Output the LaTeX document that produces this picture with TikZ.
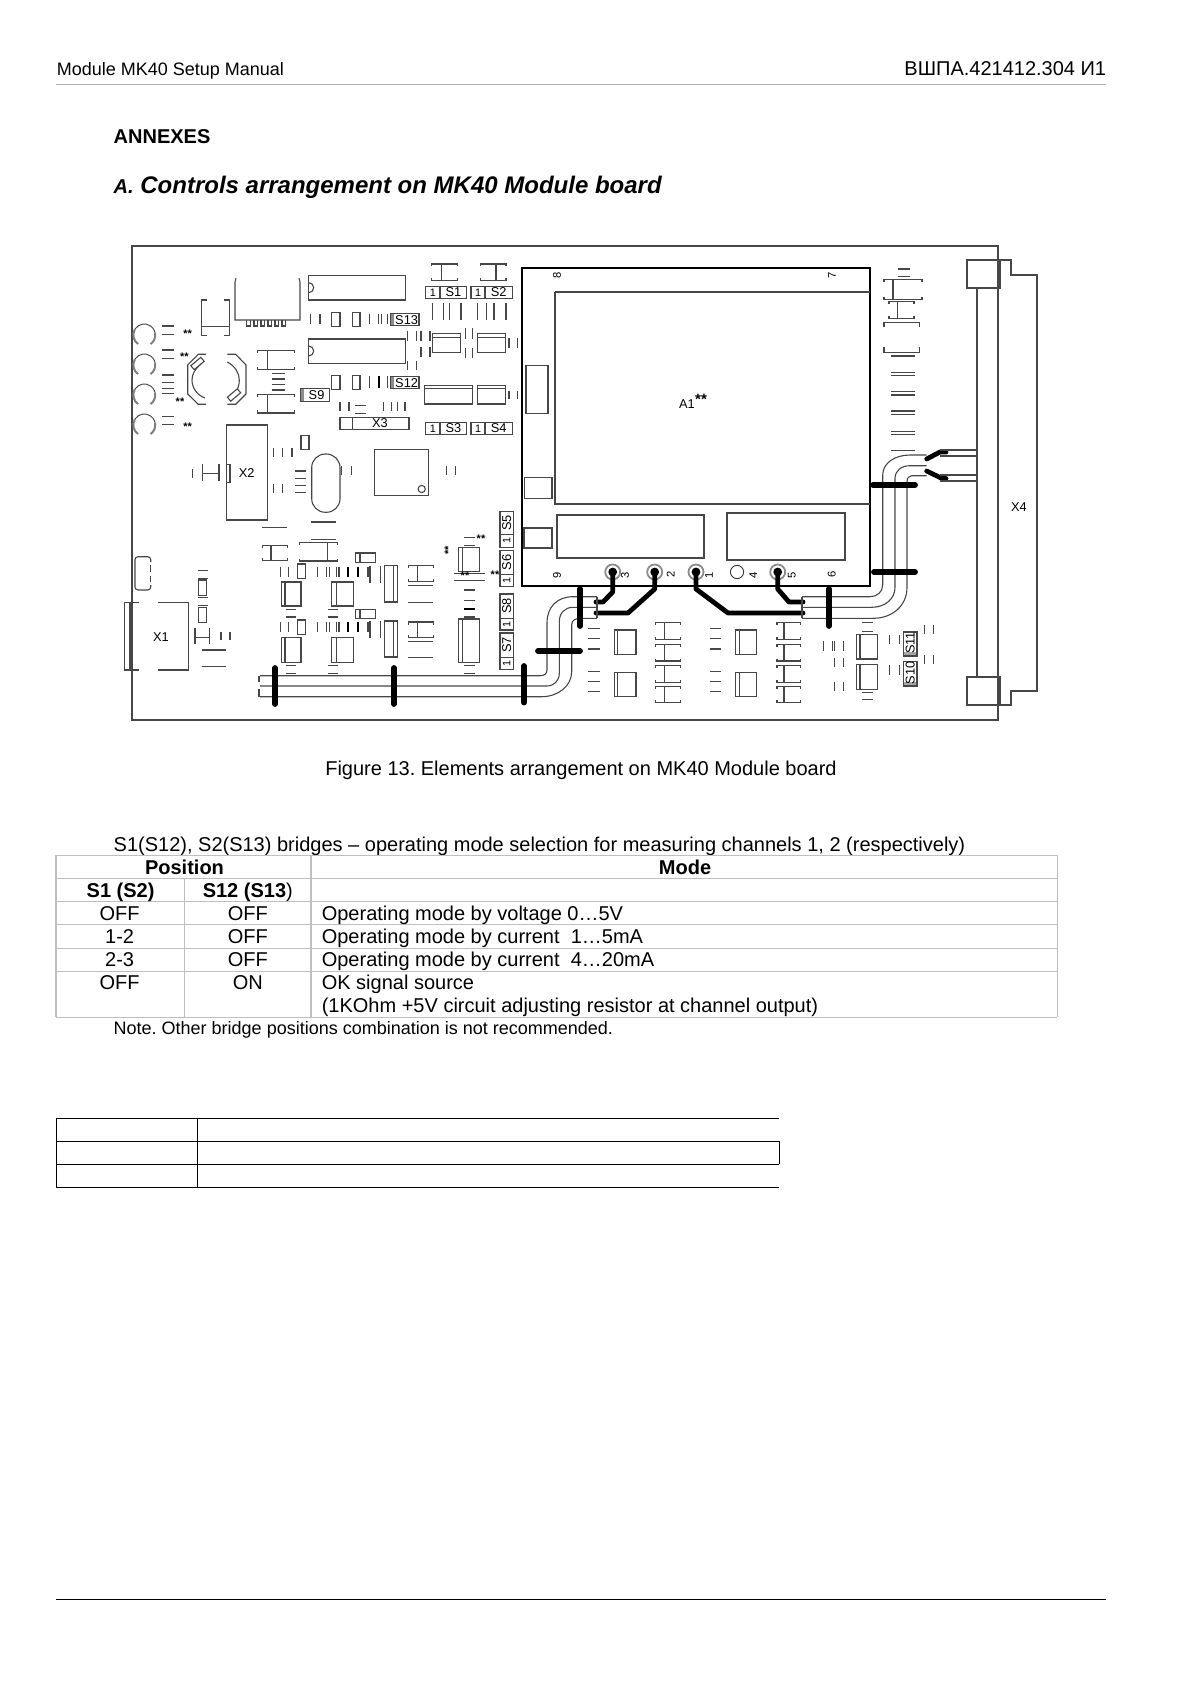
\documentclass[tikz,border=0pt]{standalone}
\usepackage{fontspec}
\setmainfont{Liberation Sans}
\frenchspacing
\tikzset{
    part/.style={draw=black!72,line width=0.55pt},
    wire/.style={draw=black!72,line width=0.55pt},
    heavy/.style={line width=2.4pt,line cap=round,line join=round},
    clamp/.style={line width=2.9pt,line cap=round},
    ruling/.style={draw=black!25,line width=0.6pt},
    txt/.style={inner sep=0pt,anchor=base west},
    ctr/.style={inner sep=0pt,anchor=base},
    small/.style={inner sep=0pt,font=\fontsize{6.4}{7}\selectfont},
    tiny/.style={inner sep=0pt,font=\fontsize{5.4}{6}\selectfont},
    pin/.style={inner sep=0pt,font=\fontsize{5.6}{6}\selectfont,rotate=90},
    star/.style={inner sep=0pt,font=\fontsize{5.5}{6}\bfseries\selectfont},
    body/.style={font=\fontsize{10}{12}\selectfont},
    note/.style={font=\fontsize{9}{11}\selectfont},
    head/.style={font=\fontsize{10}{12}\bfseries\selectfont},
}
\begin{document}
\begin{tikzpicture}[x=0.5pt,y=-0.5pt]
    \useasboundingbox (0,0) rectangle (1190,1684);
    % page head
    \node[txt,note] (headleft) at (56.5,76) {Module MK40 Setup Manual};
    \node[inner sep=0pt,anchor=base east,font=\fontsize{10}{12}\selectfont] (headright) at (1106.5,76) {ВШПА.421412.304 И1};
    \draw[draw=black!30,line width=0.5pt] (56,84.3) -- (1106,84.3);
    \draw[line width=0.5pt] (56,1599) -- (1106,1599);
    \node[txt,font=\fontsize{10}{12}\bfseries\selectfont] (annexes) at (113.3,143.3) {ANNEXES};
    \node[txt,font=\fontsize{12}{14}\bfseries\itshape\selectfont] (title) at (113.3,193.3) {{\fontsize{10}{12}\selectfont A.} Controls arrangement on MK40 Module board};
    % board
    \draw[part] (132,246) rectangle (998,720);
    % connector X4
    \draw[part] (967,260) -- (1011,260) -- (1011,275) -- (1037,275) -- (1037,691) -- (1011,691) -- (1011,705) -- (967,705);
    \draw[part] (967,260) rectangle (1000,288) (967,677) rectangle (1000,705);
    \draw[part] (977,288) -- (977,677);
    \node[small] (lblxfour) at (1019,507) {X4};
    % module A1
    \draw[line width=1.1pt] (522,268) rectangle (870,586);
    \draw[part] (555,292) -- (870,292) (555,292) -- (555,504) -- (870,504);
    \foreach \xa/\xb/\ya/\yb in {557/704/515/558,727/845/513/560,524/552/528/548,524.5/552/477.3/498.3,526/548/365.7/413.3}
        \draw[part] (\xa,\ya) rectangle (\xb,\yb);
    \node[small] (lblaone) at (687,404) {A1};
    \node[star,font=\fontsize{7.5}{8}\bfseries\selectfont] (staraone) at (701,399) {**};
    \foreach \i/\x/\y in {8/557/275,7/832/275,9/557/575,3/625/575,2/670.7/574,1/709/575,4/753.3/575,5/791.7/575,6/831.7/574}
        \node[pin] (lblpin\i) at (\x,\y) {\i};
    \foreach \i/\x in {1/696,2/654.7,3/612.7,5/777.7}{
        \node[circle,draw=black!45,line width=0.9pt,minimum size=7.5pt,inner sep=0pt] (pin\i) at (\x,572) {};
        \fill (pin\i.center) circle (2.2pt);
    }
    \node[circle,draw=black!80,line width=0.45pt,minimum size=6.6pt,inner sep=0pt] (pin4) at (737,572) {};
    % heavy traces
    \draw[heavy] (pin3.center) -- (612.7,592) -- (603,602) -- (596,602);
    \draw[heavy] (pin2.center) -- (654.7,589) -- (628,613) -- (596,613);
    \draw[heavy] (pin1.center) -- (696,589) -- (728,613) -- (803,613);
    \draw[heavy] (pin5.center) -- (777.7,589) -- (789,602) -- (803,602);
    \draw[heavy] (926.7,459) -- (940,452) -- (946,452);
    \draw[heavy] (926.7,471) -- (942,478.5) -- (946,478.5);
    % harness, left run
    \draw[wire] (597,596.7) -- (573,596.7) .. controls (557,596.7) and (547,607) .. (547,623) -- (547,670) .. controls (547,674) and (544,675.7) .. (540,675.7) -- (260,675.7);
    \draw[wire] (597,607.3) -- (573,607.3) .. controls (565,607.3) and (559.3,613) .. (559.3,621.7) -- (559.3,673) .. controls (559.3,681) and (554,686) .. (546.7,686) -- (260,686);
    \draw[wire] (597,618.3) -- (582,618.3) .. controls (575,618.3) and (571.7,620) .. (571.7,625) -- (571.7,671.7) .. controls (571.7,686) and (558,696.7) .. (541.7,696.7) -- (260,696.7);
    \draw[wire] (597,596.7) -- (597,618.3) (259,675.7) -- (259,682) (259,689) -- (259,696.7);
    % harness, right run
    \draw[wire] (802,596.7) -- (870,596.7) .. controls (877,596.7) and (882.7,592) .. (882.7,585) -- (882.7,475) .. controls (882.7,463) and (895,455) .. (910,455) -- (926.7,455);
    \draw[wire] (802,607.3) -- (871.7,607.3) .. controls (885,607.3) and (895,599) .. (895,587.3) -- (895,478.3) .. controls (895,471) and (901,465.7) .. (910,465.7) -- (926.7,465.7);
    \draw[wire] (802,618.3) -- (873.3,618.3) .. controls (892,618.3) and (907,606) .. (907,587.3) -- (907,481.7) .. controls (907,478) and (909,475.7) .. (911.7,475.7) -- (926.7,475.7);
    \draw[wire] (802,596.7) -- (802,618.3);
    \foreach \y in {450,456,475,481}
        \draw[wire] (940,\y) -- (977,\y);
    % clamps
    \foreach \x/\ya/\yb in {275/668/704,394/668/704,524/666/702.5,580/589/626,829/589/626}
        \draw[clamp] (\x,\ya) -- (\x,\yb);
    \foreach \xa/\xb/\y in {538/580/651,874/915/572,873/915/485}
        \draw[clamp] (\xa,\y) -- (\xb,\y);
    % plain boxes
    \foreach \xa/\xb/\ya/\yb in {
        308.7/405.3/275.7/300,308.7/405.3/339/363.3,
        331.7/340/312.7/326.7,352.7/360/312.7/326.7,331.7/340/375.3/389.3,352.7/360/375.3/389.3,
        301/309/435.7/449.3,374.3/428.3/449.3/495.7,226.3/267.3/425/520,226.7/230/464.3/482.3,
        297.3/305.3/564/578.7,297.3/305.3/620/634.3,198.7/206.7/580/595.7,198.7/206.7/607.3/622.3}
        \draw[part,fill=white] (\xa,\ya) rectangle (\xb,\yb);
    % boxes with an inner edge
    \foreach \xa/\xi/\xb/\ya/\yb in {
        281.7/285/301/582/606,331.7/336.7/353.3/582/606,281.7/285/301/637.3/662.3,331.7/336.7/353.3/637.3/662.3,
        384.3/393.7/397.7/565.7/602,384.3/393.7/397.7/621/657,458.7/462.3/479.3/547.3/571.7,458.7/462.3/479.3/619/662.3,
        614.3/617.7/636/630/654.3,614.3/617.7/636/672.7/696.7,735.7/739.3/756.3/630/654.3,735.7/739.3/756.3/672.7/696.7,
        856.7/860/877.3/634.7/659,856.7/860/877.3/664.3/689.3,355.3/360/375.7/553/562.3,355.3/360/375.7/609.3/618.3}
        \draw[part] (\xa,\ya) rectangle (\xb,\yb) (\xi,\ya) -- (\xi,\yb);
    \foreach \xa/\xb/\ya/\yi/\yb in {432.3/460.7/333.3/337.3/352.7,477.7/505.7/333.3/337.3/352.7,424.3/472.3/385.3/388.3/404,477.7/505.7/385.3/388.3/404}
        \draw[part] (\xa,\ya) rectangle (\xb,\yb) (\xa,\yi) -- (\xb,\yi);
    % chip notches, crystal, dot
    \foreach \y in {287.7,351}
        \draw[part] (308.7,\y-5) arc[start angle=-90,end angle=90,radius=5];
    \draw[part,rounded corners=6.8pt] (311.7,490) -- (311.7,454) -- (340,454) -- (340,512.3) -- (311.7,512.3) -- (311.7,490);
    \draw[part] (421.7,489) circle (1.8pt);
    % bridged capacitors
    \foreach \xa/\xb/\xs/\ya/\yb in {
        431.7/457.3/441.7/264/280.7,480.3/506/496/264/280.7,
        257.3/294.3/267.3/350.7/369.3,257.3/294.3/267.3/394.3/413,
        884/922/893/279.3/299.3,889/914/897.7/301.7/318.3,
        655.7/680.3/664.3/622.7/639.3,655.7/680.3/664.3/644.3/661,655.7/680.3/664.3/665.7/682.3,655.7/680.3/664.3/686.7/702.3,
        777/800.7/784/622.7/639.3,777/800.7/784/644.3/661,777/800.7/784/665.7/682.3,777/800.7/784/686.7/702.3,
        408.3/433.3/417.3/565.7/581.7,408.3/433.3/417.3/622/637.7,
        299.3/337.7/327.7/542.3/561,262.7/287.7/271/545.7/560.7}
        \draw[part] (\xa,\ya+2.5) -- (\xa,\ya) -- (\xb,\ya) -- (\xb,\ya+2.5) (\xs,\ya) -- (\xs,\yb) (\xa,\yb-2.5) -- (\xa,\yb) -- (\xb,\yb) -- (\xb,\yb-2.5);
    % open brackets
    \draw[part] (884,327) -- (884,322.3) -- (919.3,322.3) -- (919.3,327);
    \draw[part] (884,347) -- (884,352.3) -- (919.3,352.3) -- (919.3,347);
    \draw[part] (207,300) -- (201.7,300) -- (201.7,335.7) -- (207,335.7) (224,300) -- (229.3,300) -- (229.3,335.7) -- (224,335.7) (201.7,326.7) -- (229.3,326.7);
    \draw[part] (236,278.3) -- (235,282) -- (235,320) -- (300,320) -- (300,282) -- (299,278.3);
    \foreach \x in {246.7,254,261,268,275,282}
        \draw[part] (\x,320) -- (\x,326) -- (\x+3.5,326) -- (\x+3.5,320);
    % horizontal strokes
    \foreach \xa/\xb/\y in {
        162.3/174.3/326,162.3/174.3/334.3,162.3/174.3/350,162.3/174.3/358.3,162.3/174.3/375,162.3/174.3/382.3,162.3/174.3/388.3,162.3/174.3/393.3,162.3/174.3/416.7,162.3/174.3/424.3,
        271.7/285/373.3,271.7/285/379,271.7/285/384.3,271.7/285/390,295/305.7/471,295/305.7/478.3,295/305.7/485.7,295/305.7/492.3,
        355/366/405.7,355/366/413.3,261.7/286.7/527.7,310.7/336/522,310.7/336/539.3,
        285.7/295.7/609.3,285.7/295.7/617,328.3/338.3/609.3,328.3/338.3/617,285.7/295.7/665.7,285.7/295.7/673.3,328.3/338.3/665.7,328.3/338.3/673.3,
        408.3/433.3/585.3,408.3/433.3/602.3,408.3/433.3/641.3,408.3/433.3/657.7,
        464/475/537.7,464/475/545.7,454/485/573.3,454/485/580.7,464/475/590,464/475/600.7,464/475/617,464/475/665.7,464/475/673.3,
        198.3/207.7/570.7,198.3/207.7/578.3,198.3/207.7/597.7,198.3/207.7/605.7,201.7/225.7/650,201.7/225.7/666.7,
        588.3/600/628.3,588.3/600/638.3,588.3/600/649,588.3/600/671.7,588.3/600/681.7,588.3/600/691.3,
        710/721/628.3,710/721/638.3,710/721/649,710/721/671.7,710/721/681.7,710/721/691.3,
        862/873/622.3,862/873/631.7,862/873/692.7,862/873/699.3,
        898/910/269,898/910/276.7,891/915/356,891/915/372.3,891/915/375.7,891/915/391.7,891/915/395,891/915/411,891/915/414.3,891/915/431.3,891/915/434.7,891/915/450.7}
        \draw[part] (\xa,\y) -- (\xb,\y);
    \draw[line width=1.1pt] (464,609) -- (475,609);
    % vertical strokes
    \foreach \ya/\yb/\xlist in {
        314/324/{310.7,320,369.3,378.3,381.7,387.3},
        376/388/{369.3,387.3},
        303.3/320/{432.3,443.3,449.3,461,477.7,486.7,494,506},
        330.7/341/{407.3,416.7,421,430},
        347.3/356.7/{421,430},
        360.7/370/{407.3,416.7},
        328.3/339/{465.7,472.3},
        348.3/358.3/{465.7,472.3},
        338.3/348.3/{509,517.7},
        390.7/399.3/{509,517.7},
        401.7/410.7/{340,349,383.3,391.7,397.3,405},
        448.3/457.3/{273.7,282.7,292},
        484.3/493.3/{273.7,282.7},
        466/475/{341.7,351.7,446.7,455.7},
        566.7/576.7/{280.7,288.3,317.3,326.7,329.3,336.7,339,368},
        622.3/632.3/{280.7,288.3,317.3,326.7,329.3,336.7,339,368},
        566/583.3/{370,380.7},
        621/638.3/{370,380.7},
        641/650.7/{823.3,832.3,834.3,843.3},
        658.3/666.7/{834.3,843.3},
        682/691/{834.3,843.3},
        635/644/{889.7,899.3},
        665/675/{889.7,899.3},
        624.7/634/{924.3,933.7},
        655/664/{924.3,933.7},
        631.7/640/{221,230}}
        \foreach \x in \xlist
            \draw[part] (\x,\ya) -- (\x,\yb);
    \foreach \ya/\yb/\x in {376/388/379.3,566.7/576.7/348,566.7/576.7/358.3,622.3/632.3/348,622.3/632.3/358.3}
        \draw[line width=1pt] (\x,\ya) -- (\x,\yb);
    % trimmers
    \foreach \i/\y in {1/335,2/365,3/395,4/425}{
        \node[circle,inner sep=0pt,minimum size=0pt] (trim\i) at (144.3,\y) {};
        \draw[draw=black!70,line width=0.5pt] (trim\i.center) ++(125:11) arc[start angle=125,end angle=415,radius=11];
        \draw[draw=black!50,line width=1pt] (trim\i.center) ++(125:11) arc[start angle=125,end angle=210,radius=11];
        \draw[draw=black!50,line width=1pt] (trim\i.center) ++(55:11) arc[start angle=55,end angle=-10,radius=11];
    }
    \foreach \i/\x/\y in {1/187.7/334,2/184.3/356.5,3/180/402,4/187.7/426.5,5/481/538.5,6/465/576,7/495/574.5}
        \node[star] (starry\i) at (\x,\y) {**};
    \node[star,rotate=90] (starry8) at (448.3,550.7) {**};
    % battery holder
    \draw[part] (206,354.3) -- (198.3,354.3) -- (187.7,365) -- (187.7,394) -- (198.3,404.3) -- (206,404.3);
    \draw[part] (227.3,354.3) -- (235.7,354.3) -- (246,365) -- (246,394) -- (235.7,404.3) -- (227.3,404.3);
    \draw[part] (201,364) .. controls (195,369) and (192,374) .. (192,380) .. controls (192,388) and (197,395) .. (205,398);
    \draw[part] (227.3,362) .. controls (235,366) and (239.3,373) .. (239.3,380) .. controls (239.3,385) and (238,389) .. (235,393);
    \node[part,rotate=40,minimum width=6.5pt,minimum height=2.6pt,inner sep=0pt,draw,fill=white] (tabone) at (197.5,363.5) {};
    \node[part,rotate=40,minimum width=6.5pt,minimum height=2.6pt,inner sep=0pt,draw,fill=white] (tabtwo) at (234,395) {};
    % connector X1 and neighbours
    \draw[part] (139,602.3) -- (124.3,602.3) -- (124.3,670) -- (139,670) (130,602.3) -- (130,670);
    \draw[part] (158.3,602.3) -- (188.3,602.3) -- (188.3,670) -- (158.3,670);
    \draw[part,rounded corners=1.5pt] (150.7,562) -- (150.7,556.7) -- (135,556.7) -- (135,590) -- (150.7,590) -- (150.7,585);
    \draw[part] (132.3,565.7) -- (132.3,581.7) (150.7,565) -- (150.7,572) (150.7,576) -- (150.7,582);
    \node[small] (lblxone) at (161,637.3) {X1};
    \draw[part] (195,628.3) -- (195,644) (195,637.3) -- (209.3,637.3) (209.3,628.3) -- (209.3,644);
    \draw[part] (202.3,464) -- (202.3,480.7) (202.3,473.3) -- (219,473.3) (219,464) -- (219,480.7) (192.7,469) -- (192.7,478);
    \node[small] (lblxtwo) at (246.7,473.3) {X2};
    % jumper tags
    \foreach \s/\xa/\xd/\xb/\ya/\yb in {1/425.7/440/466.7/286.3/298.7,2/471/485/512.3/286.3/298.7,3/425.7/440/466.7/422.7/434.3,4/471/485/512.3/422.7/434.3}{
        \draw[part] (\xa,\ya) rectangle (\xb,\yb) (\xd,\ya) -- (\xd,\yb);
        \node[tiny] (tagone\s) at ({(\xa+\xd)/2},{(\ya+\yb)/2}) {1};
        \node[small] (tag\s) at ({(\xd+\xb)/2},{(\ya+\yb)/2}) {S\s};
    }
    \foreach \s/\ya/\yd/\yb in {5/511.7/534.3/547.3,6/550.3/574.3/586.7,8/594/618.3/630,7/633/657.3/669.7}{
        \draw[part] (500,\ya) rectangle (513.3,\yb) (500,\yd) -- (513.3,\yd);
        \node[tiny,rotate=90] (tagone\s) at (506.7,{(\yd+\yb)/2}) {1};
        \node[small,rotate=90] (tag\s) at (506.7,{(\ya+\yd)/2}) {S\s};
    }
    \foreach \s/\xa/\xb/\ya/\yb in {13/390.7/419/313.7/325.7,12/390.7/419/376.7/388.7,9/300.3/329.3/388.3/401.3}{
        \fill[black!45] (\xa,\ya) rectangle (\xa+3.5,\yb);
        \draw[part] (\xa,\ya) rectangle (\xb,\yb);
        \node[small] (tag\s) at ({(\xa+3.5+\xb)/2},{(\ya+\yb)/2}) {S\s};
    }
    \foreach \s/\ya/\yb in {11/632/656,10/661.7/686}{
        \fill[black!35] (903.3,\yb-4) rectangle (917,\yb);
        \draw[part] (903.3,\ya) rectangle (917,\yb);
        \node[small,rotate=90] (tag\s) at (910.2,{(\ya+\yb)/2-1}) {S\s};
    }
    \draw[part] (340,417.3) rectangle (409,429.3) (352.7,417.3) -- (352.7,429.3);
    \node[small] (lblxthree) at (380,423.3) {X3};
    % caption and intro
    \node[ctr,body] (caption) at (581,775.5) {Figure 13. Elements arrangement on MK40 Module board};
    \node[txt,body] (intro) at (113.3,851.5) {S1(S12), S2(S13) bridges – operating mode selection for measuring channels 1, 2 (respectively)};
    % mode table
    \foreach \y in {855.3,878.3,901.3,924.3,948.3,971.3,1017.3}
        \draw[ruling] (56,\y) -- (1057.3,\y);
    \draw[ruling] (56,855.3) -- (56,1017.3) (311,855.3) -- (311,1017.3) (1057.3,855.3) -- (1057.3,1017.3) (184.5,878.3) -- (184.5,1017.3);
    \node[ctr,head] (colpos) at (184.5,874.3) {Position};
    \node[ctr,head] (colmode) at (685,874.3) {Mode};
    \node[ctr,head] (colsone) at (120.6,897.7) {S1 (S2)};
    \node[ctr,head] (colstwelve) at (247.8,897.7) {S12 (S13{\mdseries )}};
    \foreach \i/\a/\b/\y/\m in {1/OFF/OFF/920/Operating mode by voltage 0…5V,2/1-2/OFF/943.3/Operating mode by current\ \ 1…5mA,3/2-3/OFF/966.7/Operating mode by current\ \ 4…20mA,4/OFF/ON/989.3/OK signal source}{
        \node[ctr,body] (rowa\i) at (119.6,\y) {\a};
        \node[ctr,body] (rowb\i) at (247.8,\y) {\b};
        \node[txt,body] (rowm\i) at (321.4,\y) {\m};
    }
    \node[txt,body] (rowmx) at (321.4,1012.3) {(1KOhm +5V circuit adjusting resistor at channel output)};
    \node[txt,note] (notetxt) at (113.3,1034.3) {Note. Other bridge positions combination is not recommended.};
    % empty table
    \foreach \y in {1118.3,1141.3,1164.3,1187.3}
        \draw[line width=0.5pt] (56,\y) -- (779.3,\y);
    \draw[line width=0.5pt] (56,1118.3) -- (56,1187.3) (197.3,1118.3) -- (197.3,1187.3) (779.3,1141.3) -- (779.3,1164.3);
\end{tikzpicture}
\end{document}
